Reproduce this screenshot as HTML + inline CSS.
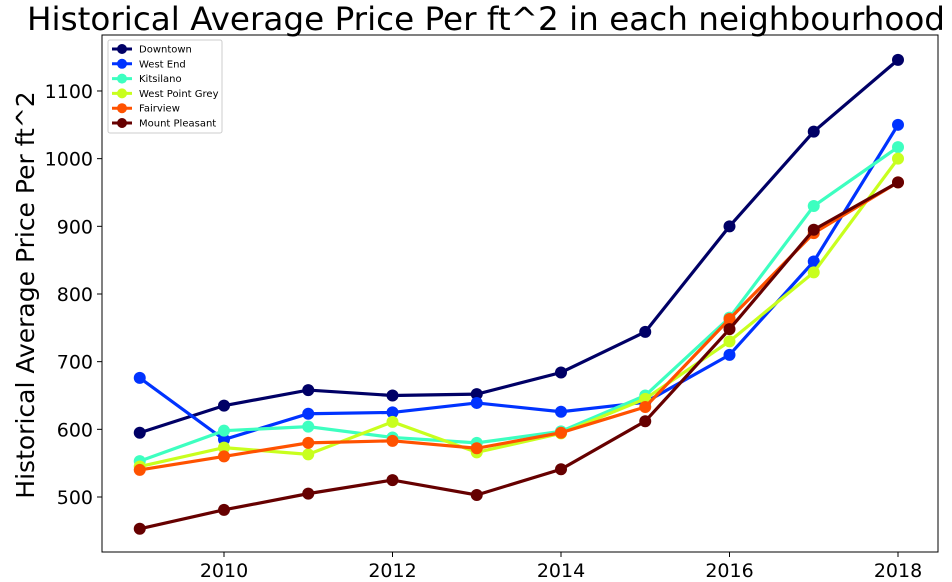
<!DOCTYPE html>
<html><head><meta charset="utf-8"><style>
body{margin:0;background:#fff;}
svg{display:block;font-family:"DejaVu Sans","Liberation Sans",sans-serif;}
</style></head><body>
<svg id="chart" width="952" height="582">
<text x="486" y="30" text-anchor="middle" font-size="32" textLength="918" lengthAdjust="spacingAndGlyphs" fill="#000">Historical Average Price Per ft^2 in each neighbourhood</text>
<text transform="translate(34,295) rotate(-90)" text-anchor="middle" font-size="25" fill="#000">Historical Average Price Per ft^2</text>
<g id="axes"></g><g id="series"></g>
<rect x="102" y="35" width="836" height="517" fill="none" stroke="#000" stroke-width="1"/>
<g id="legend"></g>
</svg>
<script>
const years=[2009,2010,2011,2012,2013,2014,2015,2016,2017,2018];
const names=["Downtown","West End","Kitsilano","West Point Grey","Fairview","Mount Pleasant"];
const colors=["#000066","#0033ff","#3dffc0","#c8ff1e","#ff5200","#660000"];
const downtown=[595,635,658,650,652,684,744,900,1040,1146];
const westEnd=[676,585,623,625,639,626,640,710,848,1050];
const kitsilano=[553,598,604,588,580,597,650,765,930,1017];
const westPointGrey=[545,573,563,611,566,594,645,730,832,1000];
const fairview=[540,560,580,583,572,595,633,763,890,965];
const mountPleasant=[453,481,505,525,503,541,612,748,895,965];
const xTicks=[2010,2012,2014,2016,2018];
const yTicks=[500,600,700,800,900,1000,1100];
const allSeries=[downtown,westEnd,kitsilano,westPointGrey,fairview,mountPleasant];
const X=y=>224+(y-2010)*84.25;
const Y=v=>497-(v-500)*0.6767;
const NS="http://www.w3.org/2000/svg";
function mk(t,a,p){const e=document.createElementNS(NS,t);for(const k in a)e.setAttribute(k,a[k]);p.appendChild(e);return e;}
const ax=document.getElementById('axes');
xTicks.forEach(t=>{
 const l=mk('line',{x1:X(t),x2:X(t),y1:552,y2:557,stroke:'#000'},ax);
 
 
 const tx=mk('text',{x:X(t),y:577,'text-anchor':'middle','font-size':19},ax);tx.textContent=t;
 
 
});
yTicks.forEach(t=>{
 const l=mk('line',{x1:97,x2:102,y1:Y(t),y2:Y(t),stroke:'#000'},ax);
 
 
 const tx=mk('text',{x:93,y:Y(t)+7,'text-anchor':'end','font-size':19},ax);tx.textContent=t;
 
 
});
const sg=document.getElementById('series');
allSeries.forEach((s,i)=>{
 const g=mk('g',{},sg);
 
 
 const pl=mk('polyline',{points:s.map((v,j)=>X(years[j])+','+Y(v)).join(' '),fill:'none',stroke:colors[i],'stroke-width':3.2},g);
 
 
 s.forEach((v,j)=>{
  const c=mk('circle',{cx:X(years[j]),cy:Y(v),r:6,fill:colors[i]},g);
  
  
 });
});
const lg=document.getElementById('legend');
const box=mk('rect',{x:108,y:40,width:114,height:93,fill:'#fff',stroke:'#ccc',rx:2},lg);


names.forEach((n,i)=>{
 const y=49+i*14.8;
 const g=mk('g',{},lg);
 
 
 mk('line',{x1:112,x2:132,y1:y,y2:y,stroke:colors[i],'stroke-width':3},g);
 mk('circle',{cx:122,cy:y,r:5,fill:colors[i]},g);
 const t=mk('text',{x:139,y:y+3.5,'font-size':10},g);t.textContent=n;
});
</script>
</body></html>
